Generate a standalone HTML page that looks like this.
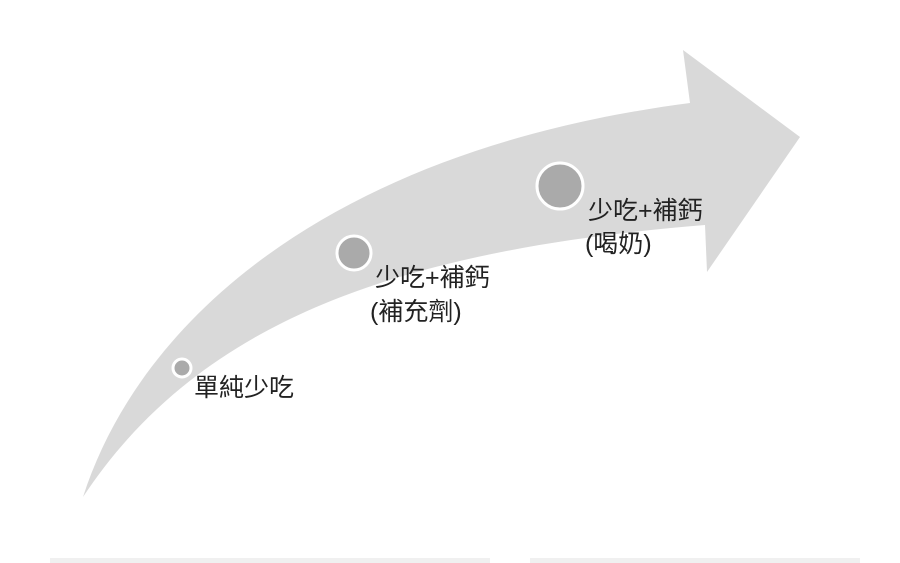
<!DOCTYPE html>
<html><head><meta charset="utf-8"><style>
html,body{margin:0;padding:0;background:#fff;width:900px;height:563px;overflow:hidden}
text{font-family:"Liberation Sans","Noto Sans CJK TC",sans-serif;font-size:25px;fill:#222}
</style></head><body>
<svg width="900" height="563" viewBox="0 0 900 563" xmlns="http://www.w3.org/2000/svg">
<path d="M83,497 C140,320 330,150 690,103 L683,50 L800,137 L707,272 L705,225 C400,250 200,320 83,497 Z" fill="#d9d9d9"/>
<circle cx="182" cy="368" r="9" fill="#aaa" stroke="#fff" stroke-width="3"/>
<circle cx="354" cy="253" r="17" fill="#aaa" stroke="#fff" stroke-width="3"/>
<circle cx="560" cy="186" r="23" fill="#aaa" stroke="#fff" stroke-width="3"/>
<text x="194" y="396">單純少吃</text>
<text x="375" y="286">少吃+補鈣</text>
<text x="370" y="320">(補充劑)</text>
<text x="588" y="219">少吃+補鈣</text>
<text x="585" y="252">(喝奶)</text>
<rect x="50" y="558" width="440" height="5" fill="#f0f0f0"/>
<rect x="530" y="558" width="330" height="5" fill="#f0f0f0"/>
</svg>
</body></html>
